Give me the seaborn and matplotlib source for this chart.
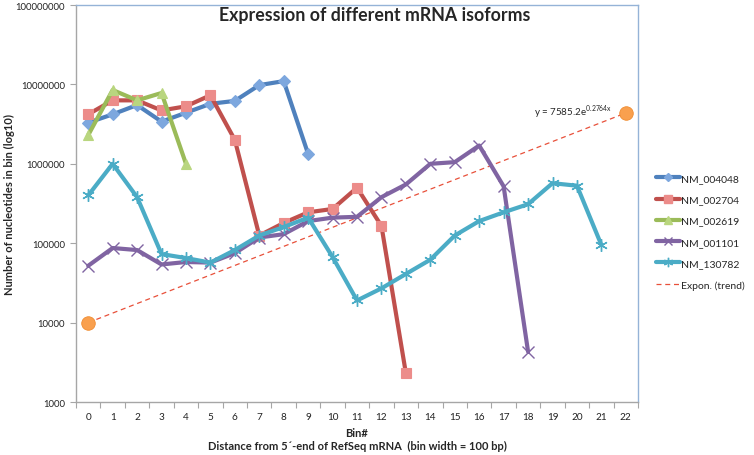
import numpy as np
import pandas as pd
import matplotlib
matplotlib.use("Agg")
import matplotlib.pyplot as plt
from matplotlib.lines import Line2D
from matplotlib.ticker import FixedLocator, FuncFormatter, NullFormatter
import seaborn as sns

# ---------------------------
# data
# ---------------------------
bins = list(range(23))
nm_004048 = [3.3e6, 4.2e6, 5.5e6, 3.4e6, 4.4e6, 5.7e6, 6.2e6, 9.8e6, 1.1e7, 1.33e6]
nm_002704 = [4.2e6, 6.3e6, 6.3e6, 4.7e6, 5.3e6, 7.3e6, 2.0e6, 1.25e5, 1.8e5, 2.45e5,
             2.7e5, 5.0e5, 1.65e5, 2.3e3]
nm_002619 = [2.3e6, 8.5e6, 6.3e6, 7.8e6, 1.0e6]
nm_001101 = [5.2e4, 8.7e4, 8.2e4, 5.4e4, 5.8e4, 5.7e4, 7.5e4, 1.18e5, 1.3e5, 1.9e5,
             2.1e5, 2.15e5, 3.8e5, 5.5e5, 1.0e6, 1.05e6, 1.7e6, 5.2e5, 4.3e3]
nm_130782 = [4.0e5, 1.0e6, 3.8e5, 7.3e4, 6.5e4, 5.7e4, 8.2e4, 1.25e5, 1.6e5, 2.1e5,
             6.7e4, 1.9e4, 2.7e4, 4.1e4, 6.2e4, 1.25e5, 1.9e5, 2.45e5, 3.1e5, 5.7e5,
             5.3e5, 9.5e4]
trend_x = [0, 22]
trend_y = [1.0e4, 4.37e6]
trend_label = "y = 7585.2e$^{\\mathregular{0.2764x}}$"
y_ticks = [1e3, 1e4, 1e5, 1e6, 1e7, 1e8]

series = [
    ("NM_004048", nm_004048, "#4F81BD", "D", "#7DA7DE", 6),
    ("NM_002704", nm_002704, "#C0504D", "s", "#EC8C8A", 7.5),
    ("NM_002619", nm_002619, "#9BBB59", "^", "#B9D67F", 7.5),
    ("NM_001101", nm_001101, "#8064A2", "x", "#8064A2", 8),
    ("NM_130782", nm_130782, "#4BACC6", (6, 2, 0), "#4BACC6", 9),
]

sns.set_style("white")
plt.rcParams["font.family"] = ["Lato", "DejaVu Sans"]

fig = plt.figure(figsize=(7.54, 4.56), dpi=100)
ax = fig.add_axes([0.1008, 0.1162, 0.7454, 0.8706])

handles = []
for name, vals, col, mk, face, ms in series:
    df = pd.DataFrame({"bin": bins[:len(vals)], "value": vals})
    thin = mk in ("x", (6, 2, 0))
    sns.lineplot(data=df, x="bin", y="value", ax=ax, color=col, linewidth=3.0,
                 marker=mk, markersize=ms, markerfacecolor=face,
                 markeredgecolor=col if thin else face,
                 markeredgewidth=1.0 if thin else 0.8,
                 legend=False, zorder=3)
    handles.append(Line2D([], [], color=col, linewidth=3.0, marker=mk,
                          markersize=ms * 0.75, markerfacecolor=face,
                          markeredgecolor=col if thin else face,
                          label=name))

# exponential trend line with its end markers
tdf = pd.DataFrame({"bin": trend_x, "value": trend_y})
sns.lineplot(data=tdf, x="bin", y="value", ax=ax, color="#E8503A", linewidth=0.9,
             linestyle=(0, (4, 3)), legend=False, zorder=2)
sns.scatterplot(data=tdf, x="bin", y="value", ax=ax, color="#F9A04E", s=95,
                edgecolor="#F08C30", linewidth=0.6, legend=False, zorder=4)
handles.append(Line2D([], [], color="#E8503A", linewidth=0.9,
                      linestyle=(0, (4, 3)), label="Expon. (trend)"))

ax.annotate(trend_label, xy=(trend_x[1], trend_y[1]), xytext=(-10, 1),
            textcoords="offset points", ha="right", va="center", fontsize=7)

ax.set_yscale("log")
ax.set_ylim(1e3, 1e8)
ax.set_xlim(-0.5, 22.5)
ax.yaxis.set_major_locator(FixedLocator(y_ticks))
ax.yaxis.set_major_formatter(FuncFormatter(lambda v, p: "%d" % v))
ax.yaxis.set_minor_locator(FixedLocator([]))
ax.set_xticks(bins)
ax.set_xticks([b + 0.5 for b in bins[:-1]] + [-0.5, 22.5], minor=True)
ax.xaxis.set_minor_formatter(NullFormatter())
ax.tick_params(axis="x", which="major", length=0, pad=7.5, labelsize=7.2, colors="#222222")
ax.tick_params(axis="x", which="minor", length=4, width=0.8, color="#A6A6A6",
               direction="out", bottom=True)
ax.tick_params(axis="y", which="major", length=4, width=0.8, color="#A6A6A6",
               direction="out", left=True, pad=4, labelsize=6.8, labelcolor="#222222")

for side in ("left", "bottom"):
    ax.spines[side].set_color("#A6A6A6")
    ax.spines[side].set_linewidth(1.0)
for side in ("top", "right"):
    ax.spines[side].set_color("#95B3D7")
    ax.spines[side].set_linewidth(1.0)

ax.set_xlabel("Bin#\nDistance from 5´-end of RefSeq mRNA  (bin width = 100 bp)",
              fontsize=8, fontweight="bold", labelpad=4, linespacing=1.25)
ax.set_ylabel("Number of nucleotides in bin (log10)", fontsize=8,
              fontweight="bold")
ax.yaxis.set_label_coords(-0.108, 0.5)

fig.text(0.4967, 0.9656, "Expression of different mRNA isoforms", ha="center",
         va="center", fontsize=12.8, fontweight="bold")

fig.legend(handles=handles, loc="center left", bbox_to_anchor=(0.858, 0.49),
           frameon=False, fontsize=7.5, handlelength=2.3, handletextpad=0.1,
           labelspacing=1.15)

fig.savefig("out.png", dpi=100)
